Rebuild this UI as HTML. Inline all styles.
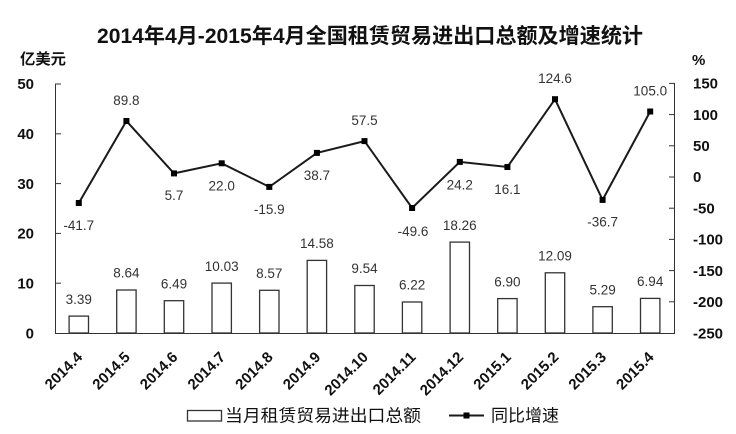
<!DOCTYPE html>
<html>
<head>
<meta charset="utf-8">
<style>
html,body{margin:0;padding:0;background:#fff;}
svg{display:block;}
.t{font-family:"Liberation Sans","Noto Sans CJK SC",sans-serif;}
.ax{font-family:"Liberation Sans",sans-serif;font-weight:bold;font-size:15px;fill:#111;}
.dl{font-family:"Liberation Sans",sans-serif;font-size:13.5px;fill:#333;text-anchor:middle;}
.xl{font-family:"Liberation Sans",sans-serif;font-weight:bold;font-size:15px;fill:#111;text-anchor:end;}
</style>
</head>
<body>
<svg width="736" height="434" viewBox="0 0 736 434" xmlns="http://www.w3.org/2000/svg">
<rect width="736" height="434" fill="#fff"/>
<!-- title -->
<text class="t" x="97" y="43" font-size="21" font-weight="bold" fill="#111" textLength="546" lengthAdjust="spacingAndGlyphs" style="font-family:'Liberation Sans','Noto Sans CJK SC',sans-serif">2014年4月-2015年4月全国租赁贸易进出口总额及增速统计</text>
<!-- units -->
<text x="20" y="64" font-size="15" font-weight="bold" fill="#111" style="font-family:'Noto Sans CJK SC',sans-serif" textLength="46" lengthAdjust="spacingAndGlyphs">亿美元</text>
<text x="692" y="65" font-size="15" font-weight="bold" fill="#111" style="font-family:'Liberation Sans',sans-serif">%</text>

<!-- axes -->
<g stroke="#333" stroke-width="1" fill="none">
<line x1="55.5" y1="83.5" x2="55.5" y2="333.5"/>
<line x1="674.5" y1="83.5" x2="674.5" y2="333.5"/>
<line x1="55" y1="333.5" x2="675" y2="333.5"/>
<!-- left ticks (inward) -->
<line x1="55" y1="84" x2="61" y2="84"/>
<line x1="55" y1="133.8" x2="61" y2="133.8"/>
<line x1="55" y1="183.6" x2="61" y2="183.6"/>
<line x1="55" y1="233.4" x2="61" y2="233.4"/>
<line x1="55" y1="283.2" x2="61" y2="283.2"/>
<!-- right ticks (inward) -->
<line x1="669" y1="83.4" x2="675" y2="83.4"/>
<line x1="669" y1="114.6" x2="675" y2="114.6"/>
<line x1="669" y1="145.8" x2="675" y2="145.8"/>
<line x1="669" y1="177" x2="675" y2="177"/>
<line x1="669" y1="208.2" x2="675" y2="208.2"/>
<line x1="669" y1="239.4" x2="675" y2="239.4"/>
<line x1="669" y1="270.6" x2="675" y2="270.6"/>
<line x1="669" y1="301.8" x2="675" y2="301.8"/>
</g>

<!-- left labels -->
<g class="ax" text-anchor="end">
<text x="34" y="89">50</text>
<text x="34" y="139">40</text>
<text x="34" y="189">30</text>
<text x="34" y="238.5">20</text>
<text x="34" y="288.5">10</text>
<text x="34" y="338.5">0</text>
</g>
<!-- right labels -->
<g class="ax">
<text x="693" y="88.5">150</text>
<text x="693" y="119.8">100</text>
<text x="693" y="151">50</text>
<text x="693" y="182.2">0</text>
<text x="693" y="213.4">-50</text>
<text x="693" y="244.6">-100</text>
<text x="693" y="275.8">-150</text>
<text x="693" y="307">-200</text>
<text x="693" y="338.5">-250</text>
</g>

<!-- bars -->
<g fill="#fff" stroke="#333" stroke-width="1.3">
<rect x="69.1" y="316.1" width="19.4" height="16.9"/>
<rect x="116.7" y="290.0" width="19.4" height="43.0"/>
<rect x="164.3" y="300.7" width="19.4" height="32.3"/>
<rect x="212.0" y="283.1" width="19.4" height="49.9"/>
<rect x="259.6" y="290.3" width="19.4" height="42.7"/>
<rect x="307.2" y="260.4" width="19.4" height="72.6"/>
<rect x="354.8" y="285.5" width="19.4" height="47.5"/>
<rect x="402.4" y="302.0" width="19.4" height="31.0"/>
<rect x="450.1" y="242.1" width="19.4" height="90.9"/>
<rect x="497.7" y="298.6" width="19.4" height="34.4"/>
<rect x="545.3" y="272.8" width="19.4" height="60.2"/>
<rect x="592.9" y="306.7" width="19.4" height="26.3"/>
<rect x="640.5" y="298.4" width="19.4" height="34.6"/>
</g>

<!-- bar labels -->
<g class="dl">
<text x="78.8" y="303.8">3.39</text>
<text x="126.4" y="277.7">8.64</text>
<text x="174.0" y="288.4">6.49</text>
<text x="221.7" y="270.8">10.03</text>
<text x="269.3" y="278.0">8.57</text>
<text x="316.9" y="248.1">14.58</text>
<text x="364.5" y="273.2">9.54</text>
<text x="412.1" y="289.7">6.22</text>
<text x="459.8" y="229.8">18.26</text>
<text x="507.4" y="286.3">6.90</text>
<text x="555.0" y="260.5">12.09</text>
<text x="602.6" y="294.4">5.29</text>
<text x="650.2" y="286.1">6.94</text>
</g>

<!-- line -->
<polyline fill="none" stroke="#1a1a1a" stroke-width="2" stroke-linejoin="miter"
points="78.8,203.0 126.4,121.0 174.0,173.4 221.7,163.3 269.3,186.9 316.9,152.9 364.5,141.1 412.1,208.0 459.8,161.9 507.4,167.0 555.0,99.2 602.6,199.9 650.2,111.5"/>
<g fill="#000">
<rect x="75.8" y="200.0" width="6" height="6"/>
<rect x="123.4" y="118.0" width="6" height="6"/>
<rect x="171.0" y="170.4" width="6" height="6"/>
<rect x="218.7" y="160.3" width="6" height="6"/>
<rect x="266.3" y="183.9" width="6" height="6"/>
<rect x="313.9" y="149.9" width="6" height="6"/>
<rect x="361.5" y="138.1" width="6" height="6"/>
<rect x="409.1" y="205.0" width="6" height="6"/>
<rect x="456.8" y="158.9" width="6" height="6"/>
<rect x="504.4" y="164.0" width="6" height="6"/>
<rect x="552.0" y="96.2" width="6" height="6"/>
<rect x="599.6" y="196.9" width="6" height="6"/>
<rect x="647.2" y="108.5" width="6" height="6"/>
</g>

<!-- line labels -->
<g class="dl">
<text x="78.8" y="230">-41.7</text>
<text x="126.4" y="105">89.8</text>
<text x="174.0" y="200">5.7</text>
<text x="221.7" y="190.5">22.0</text>
<text x="269.3" y="214">-15.9</text>
<text x="316.9" y="180">38.7</text>
<text x="364.5" y="125">57.5</text>
<text x="413" y="236">-49.6</text>
<text x="459.8" y="189.5">24.2</text>
<text x="507.4" y="194">16.1</text>
<text x="555.0" y="83">124.6</text>
<text x="602.6" y="226.5">-36.7</text>
<text x="650.2" y="95.5">105.0</text>
</g>

<!-- x labels -->
<g class="xl">
<text transform="translate(83.3,358) rotate(-45)">2014.4</text>
<text transform="translate(130.9,358) rotate(-45)">2014.5</text>
<text transform="translate(178.5,358) rotate(-45)">2014.6</text>
<text transform="translate(226.2,358) rotate(-45)">2014.7</text>
<text transform="translate(273.8,358) rotate(-45)">2014.8</text>
<text transform="translate(321.4,358) rotate(-45)">2014.9</text>
<text transform="translate(369.0,358) rotate(-45)">2014.10</text>
<text transform="translate(416.6,358) rotate(-45)">2014.11</text>
<text transform="translate(464.3,358) rotate(-45)">2014.12</text>
<text transform="translate(511.9,358) rotate(-45)">2015.1</text>
<text transform="translate(559.5,358) rotate(-45)">2015.2</text>
<text transform="translate(607.1,358) rotate(-45)">2015.3</text>
<text transform="translate(654.7,358) rotate(-45)">2015.4</text>
</g>

<!-- legend -->
<rect x="187.5" y="410.5" width="34" height="10.5" fill="#fff" stroke="#333" stroke-width="1.3"/>
<text x="225" y="421.5" font-size="17" fill="#111" style="font-family:'Noto Sans CJK SC',sans-serif" textLength="196" lengthAdjust="spacingAndGlyphs">当月租赁贸易进出口总额</text>
<line x1="449" y1="415.5" x2="484" y2="415.5" stroke="#1a1a1a" stroke-width="2"/>
<rect x="463.5" y="412.5" width="6" height="6" fill="#000"/>
<text x="491" y="421.5" font-size="17" fill="#111" style="font-family:'Noto Sans CJK SC',sans-serif" textLength="68" lengthAdjust="spacingAndGlyphs">同比增速</text>
</svg>
</body>
</html>
